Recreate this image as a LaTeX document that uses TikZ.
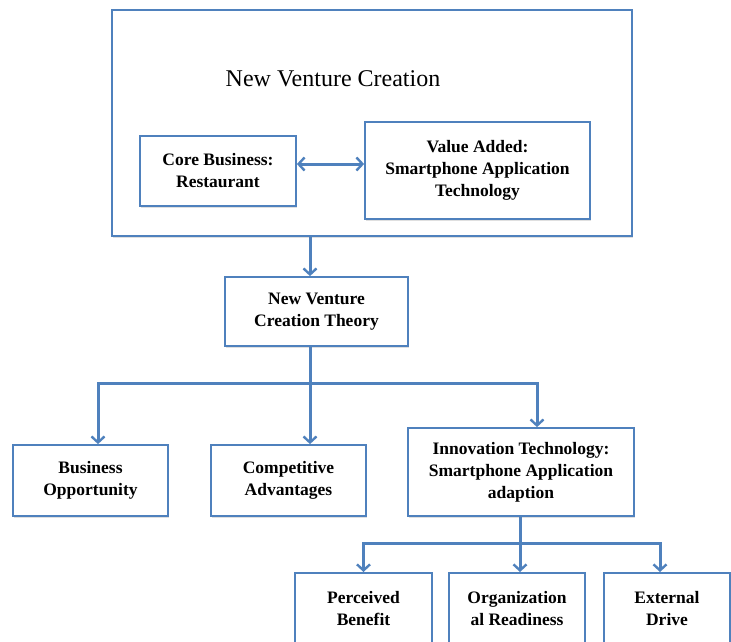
\documentclass[tikz,border=0pt]{standalone}
\usepackage{fontspec}
\setmainfont{Liberation Serif}
\usepackage{tikz}
\usetikzlibrary{arrows.meta, shadows, calc}
\definecolor{boxblue}{RGB}{79,129,189}

\begin{document}
\begin{tikzpicture}[x=1pt, y=-1pt,
    box/.style={draw=boxblue, line width=1.8pt, fill=white, align=center,
        font=\fontsize{17.5}{22}\selectfont\bfseries,
        drop shadow={opacity=0.25, shadow xshift=1pt, shadow yshift=-1.5pt}},
    link/.style={draw=boxblue, line width=3pt},
    arrow/.style={link, -{Straight Barb[length=6pt, width=13pt, line width=2.4pt]}}]
            \useasboundingbox (0,0) rectangle (731,641);
            \clip (0,0) rectangle (731,641);

            % top block
            \node[box, minimum width=520, minimum height=226] (outer) at (372,123) {};
            \node[font=\fontsize{24}{26}\selectfont] (title) at (333,79) {New Venture Creation};
            \node[box, minimum width=156, minimum height=70] (core) at (218,171) {Core Business:\\Restaurant};
            \node[box, minimum width=225, minimum height=97] (value) at (477.5,170.5) {Value Added:\\Smartphone Application\\Technology};
            \draw[link, {Straight Barb[length=6pt, width=13pt, line width=2.4pt]}-{Straight Barb[length=6pt, width=13pt, line width=2.4pt]}]
                ([yshift=7pt]core.east) -- ([yshift=7pt]core.east -| value.west);

            % theory
            \node[box, minimum width=183, minimum height=69] (theory) at (316.5,311.5) {New Venture\\Creation Theory};
            \draw[arrow] ([xshift=-62pt]outer.south) -- ([xshift=-6.5pt]theory.north);

            % second level
            \node[box, minimum width=155, minimum height=71] (opport) at (90.5,480.5) {Business\\Opportunity};
            \node[box, minimum width=155, minimum height=71] (compet) at (288.5,480.5) {Competitive\\Advantages};
            \node[box, minimum width=226, minimum height=88] (innov) at (521,472) {Innovation Technology:\\Smartphone Application\\adaption};
            \coordinate (split1) at (310,383);
            \draw[link] ([xshift=-6.5pt]theory.south) -- (split1);
            \draw[arrow] (split1) -| ([xshift=7.5pt]opport.north);
            \draw[arrow] (split1) -- (split1 |- compet.north);
            \draw[arrow] (split1) -| ([xshift=16pt]innov.north);

            % third level (cut off at the bottom)
            \node[box, minimum width=137, minimum height=72, anchor=north] (benefit) at (363.5,572) {Perceived\\Benefit};
            \node[box, minimum width=136, minimum height=72, anchor=north] (ready) at (517,572) {Organization\\al Readiness};
            \node[box, minimum width=126, minimum height=72, anchor=north] (drive) at (667,572) {External\\Drive};
            \coordinate (split2) at (520,543);
            \draw[link] (innov.south -| split2) -- (split2);
            \draw[arrow] (split2) -| (benefit.north);
            \draw[arrow] (split2) -- (split2 |- ready.north);
            \draw[arrow] (split2) -| ([xshift=-7pt]drive.north);
        \end{tikzpicture}
\end{document}
